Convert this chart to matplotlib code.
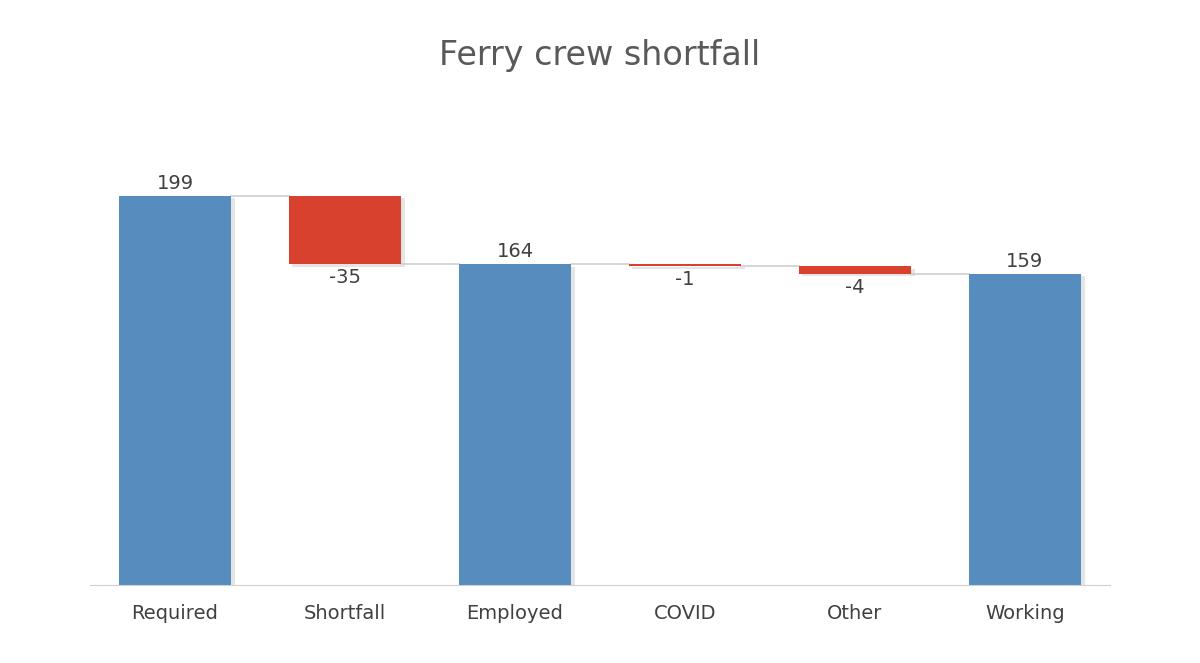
import matplotlib.pyplot as plt

categories = ['Required', 'Shortfall', 'Employed', 'COVID', 'Other', 'Working']
values = [199, -35, 164, -1, -4, 159]
is_total = [True, False, True, False, False, True]

blue = '#578cbe'
red = '#d9412f'

fig = plt.figure(figsize=(12, 6.63), dpi=100)
ax = fig.add_axes([0.075, 0.1176, 0.85, 0.7315])

level = 0
tops = []
for i, (v, tot) in enumerate(zip(values, is_total)):
    if tot:
        bottom, height, color = 0, v, blue
        level = v
    else:
        bottom, height, color = level + v, -v, red
        level = level + v
    # soft shadow
    ax.bar(i + 0.02, height, bottom=bottom - 1.2, width=0.66, color='#cccccc', alpha=0.5, zorder=1)
    ax.bar(i, height, bottom=bottom, width=0.66, color=color, zorder=2)
    if tot:
        ax.text(i, bottom + height + 1.5, str(v), ha='center', va='bottom', fontsize=14, color='#404040')
    else:
        ax.text(i, bottom - 2, str(v), ha='center', va='top', fontsize=14, color='#404040')
    tops.append(level)

for i in range(len(values) - 1):
    ax.plot([i + 0.33, i + 0.67], [tops[i], tops[i]], color='#d0d0d0', lw=1.2, zorder=0)

ax.set_xlim(-0.5, 5.5)
ax.set_ylim(0, 248)
ax.set_xticks(range(len(categories)))
ax.set_xticklabels(categories, fontsize=14, color='#404040')
ax.tick_params(axis='x', length=0, pad=14)
ax.set_yticks([])
for s in ['top', 'left', 'right']:
    ax.spines[s].set_visible(False)
ax.spines['bottom'].set_color('#d0d0d0')

fig.text(0.5, 0.917, 'Ferry crew shortfall', ha='center', va='center', fontsize=24, color='#595959')

fig.savefig('out.png', dpi=100)
